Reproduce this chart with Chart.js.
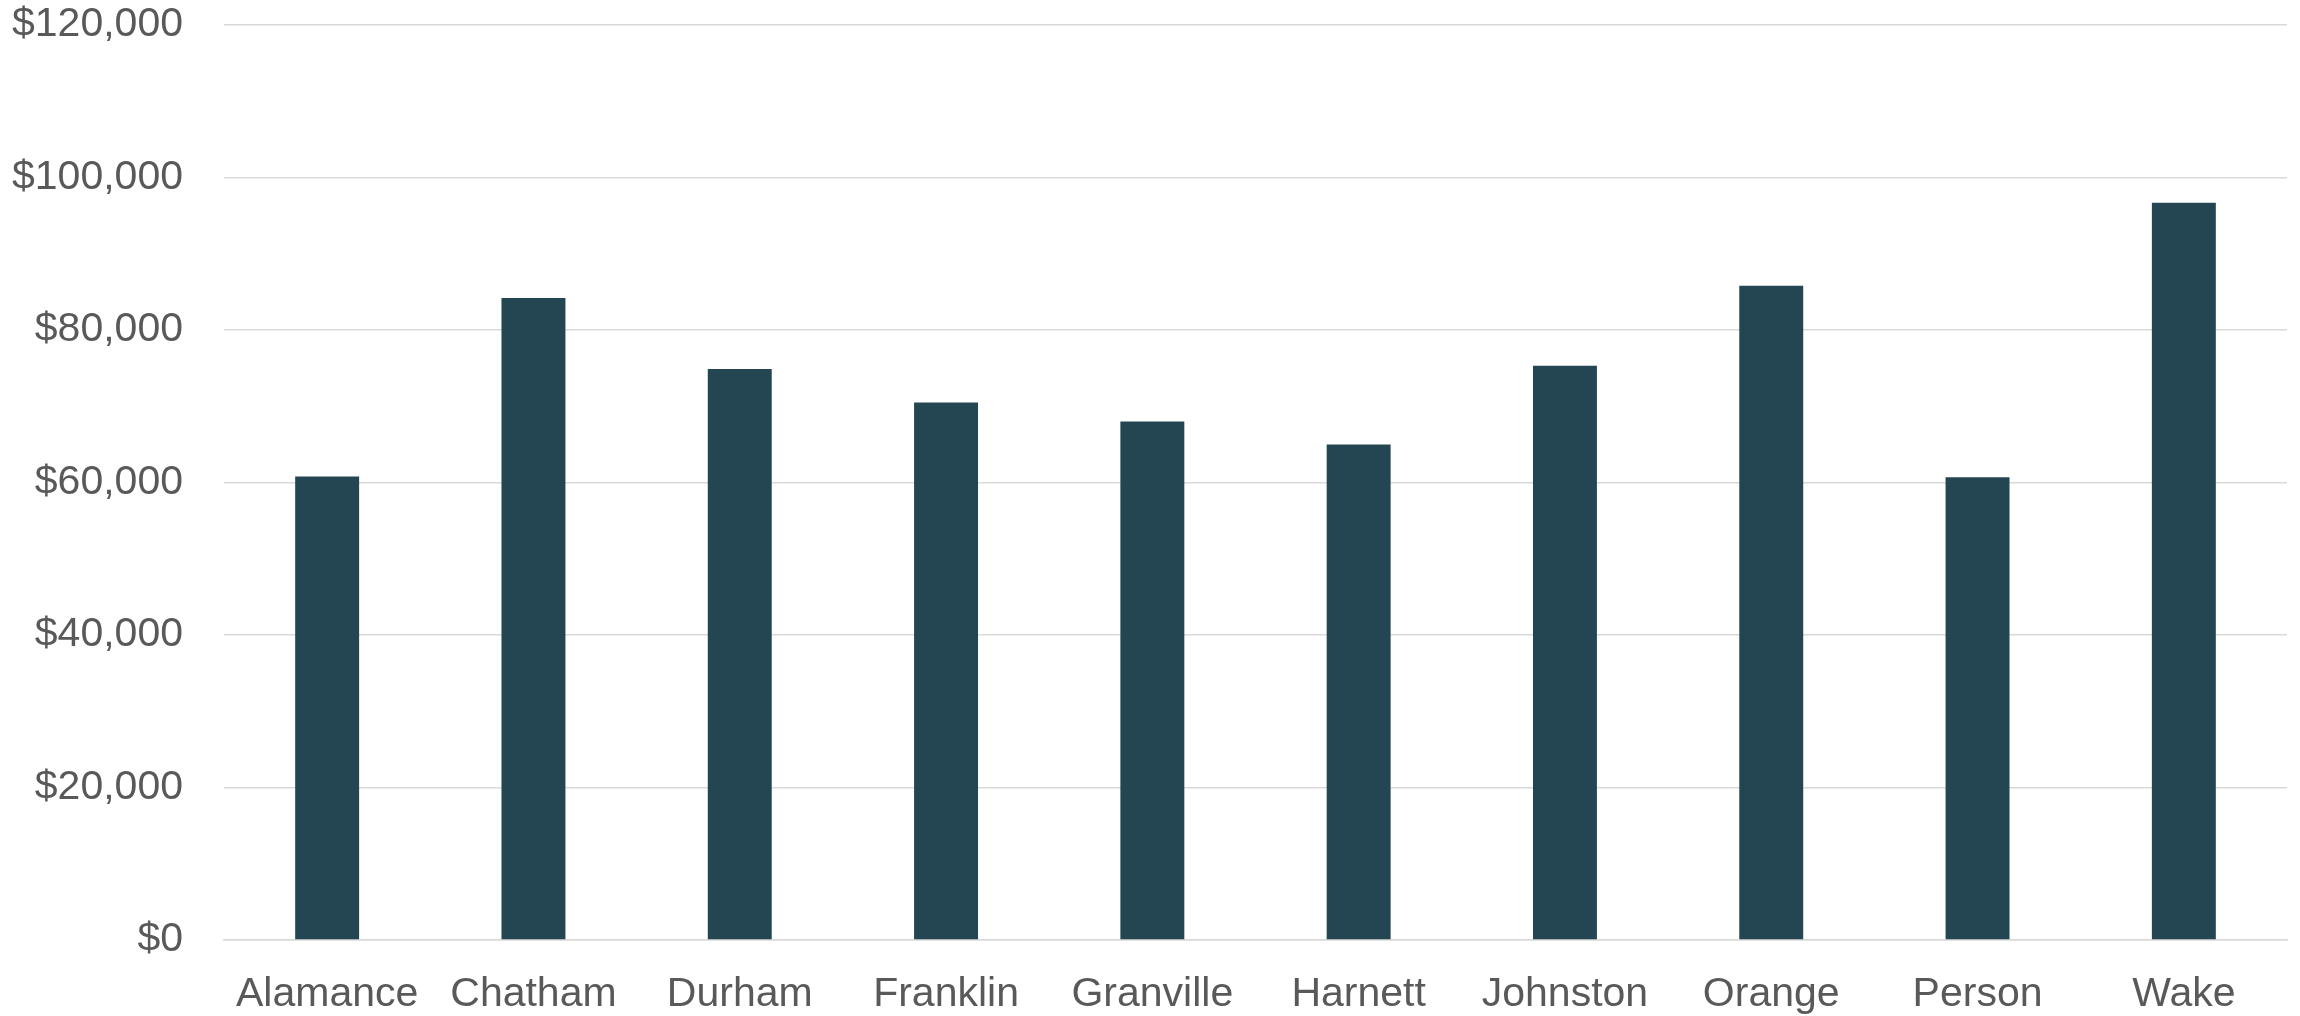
<!DOCTYPE html>
<html>
<head>
<meta charset="utf-8">
<script src="https://cdn.jsdelivr.net/npm/chart.js@4/dist/chart.umd.min.js"></script>
<style>
  html, body { margin: 0; padding: 0; background: #ffffff; }
  #wrap { width: 2300px; height: 1016px; }
</style>
</head>
<body>
<div id="wrap"><canvas id="c" width="2300" height="1016"></canvas></div>
<script>
const categories = ["Alamance", "Chatham", "Durham", "Franklin", "Granville", "Harnett", "Johnston", "Orange", "Person", "Wake"];
const values = [60800, 84200, 74900, 70500, 68000, 65000, 75300, 85800, 60700, 96700];
const yMin = 0;
const yMax = 120000;
const yStep = 20000;

const textColor = "#595959";
const fontFamily = "'Liberation Sans', Arial, sans-serif";

new Chart(document.getElementById("c"), {
  type: "bar",
  data: {
    labels: categories,
    datasets: [{
      data: values,
      backgroundColor: "#244652",
      borderWidth: 0,
      categoryPercentage: 1.0,
      barPercentage: 0.31
    }]
  },
  options: {
    responsive: false,
    animation: false,
    devicePixelRatio: 1,
    layout: { autoPadding: false, padding: { left: 0, right: 13, top: 25, bottom: 0 } },
    plugins: {
      legend: { display: false },
      title: { display: false },
      tooltip: { enabled: false }
    },
    scales: {
      x: {
        grid: { display: false, drawTicks: false },
        border: { display: true, color: "#d9d9d9", width: 1.5 },
        ticks: {
          color: textColor,
          font: { family: fontFamily, size: 41 },
          padding: 30,
          maxRotation: 0,
          autoSkip: false
        },
        afterFit: (scale) => { scale.height = 76; scale.paddingTop = 0; scale.paddingBottom = 0; }
      },
      y: {
        min: yMin,
        max: yMax,
        grid: { color: "#d9d9d9", lineWidth: 1.5, drawTicks: false },
        border: { display: false },
        ticks: {
          stepSize: yStep,
          color: textColor,
          font: { family: fontFamily, size: 41 },
          padding: 41,
          callback: (v) => "$" + Number(v).toLocaleString("en-US")
        },
        afterFit: (scale) => { scale.width = 224; scale.paddingTop = 0; scale.paddingBottom = 0; }
      }
    }
  }
});
</script>
</body>
</html>
